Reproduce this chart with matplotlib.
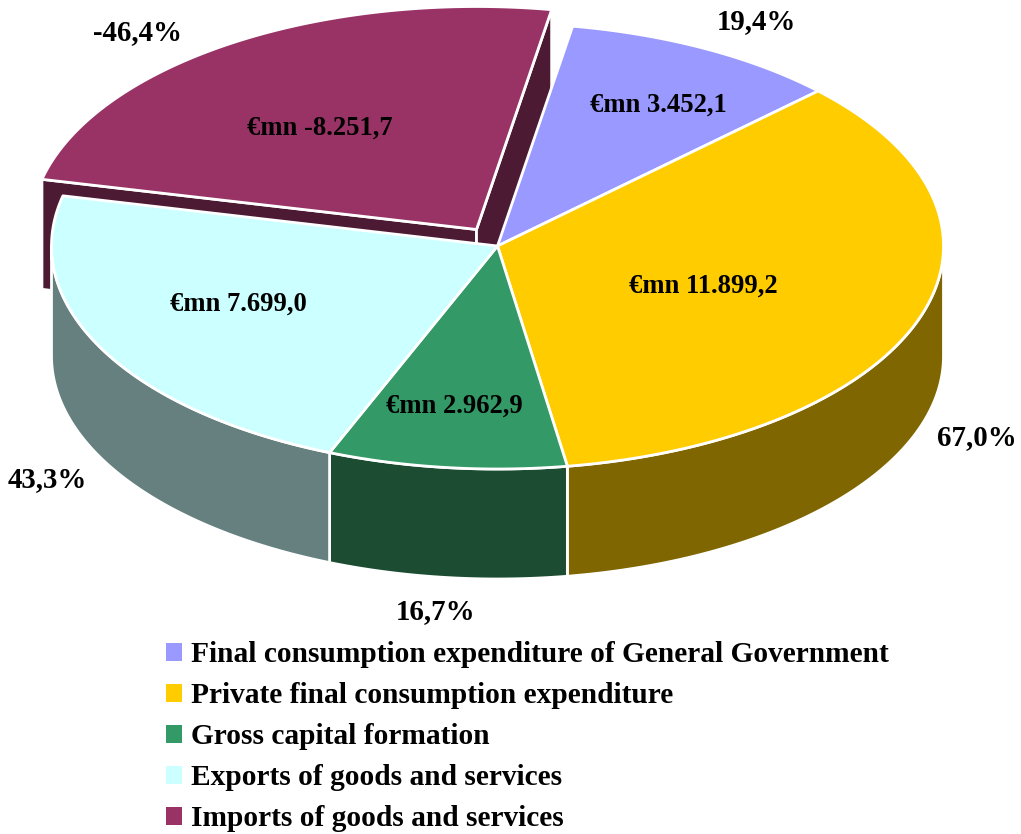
import numpy as np
import matplotlib
matplotlib.use("Agg")
import matplotlib.pyplot as plt
from matplotlib.patches import Patch, Polygon

categories = ["Final consumption expenditure of General Government",
              "Private final consumption expenditure",
              "Gross capital formation",
              "Exports of goods and services",
              "Imports of goods and services"]
values = [3452.1, 11899.2, 2962.9, 7699.0, -8251.7]
shares = [19.4, 67.0, 16.7, 43.3, -46.4]

top_colors = ["#9999FF", "#FFCC00", "#339966", "#CCFFFF", "#993366"]
wall_colors = ["#4D4D80", "#806600", "#1C4D33", "#668080", "#4D1A33"]
exploded = [False, False, False, False, True]

value_pos = [(658, 105), (703, 286), (454, 406), (238, 304), (320, 128)]
share_pos = [(756, 22), (977, 438), (436, 612), (47, 480), (137, 33)]

CX, CY, RX, RY, DEPTH = 497.5, 246.0, 446.0, 223.0, 110.0
START = 9.7
EXPLODE = (-21.0, -16.5)
EDGE = dict(edgecolor="white", linewidth=2.0, joinstyle="round")

plt.rcParams["font.family"] = ["Liberation Serif", "DejaVu Serif"]
plt.rcParams["font.weight"] = "bold"

fig = plt.figure(figsize=(10.21, 8.34), dpi=100)
ax = fig.add_axes([0, 0, 1, 1])
ax.set_xlim(0, 1021)
ax.set_ylim(834, 0)
ax.axis("off")


def arc(a0, a1, cx, cy):
    t = np.radians(np.linspace(a0, a1, 200))
    return np.column_stack([cx + RX * np.sin(t), cy - RY * np.cos(t)])


def eu(v):
    return f"{v:,.1f}".replace(",", "#").replace(".", ",").replace("#", ".")


mags = np.abs(values)
edges = START + np.concatenate([[0], np.cumsum(mags)]) / mags.sum() * 360

order = [i for i in range(len(values)) if exploded[i]] + \
        [i for i in range(len(values)) if not exploded[i]]
z = 2
for i in order:
    a0, a1 = edges[i], edges[i + 1]
    cx = CX + (EXPLODE[0] if exploded[i] else 0)
    cy = CY + (EXPLODE[1] if exploded[i] else 0)
    rim = arc(a0, a1, cx, cy)
    down = np.array([0, DEPTH])
    tip = np.array([cx, cy])
    if exploded[i]:
        for corner in (rim[0], rim[-1]):
            ax.add_patch(Polygon([tip, corner, corner + down, tip + down],
                                 facecolor=wall_colors[i], zorder=z, **EDGE))
            z += 1
    lo, hi = max(a0, 90.0), min(a1, 270.0)
    if lo < hi:
        front = arc(lo, hi, cx, cy)
        ax.add_patch(Polygon(np.vstack([front, (front + down)[::-1]]),
                             facecolor=wall_colors[i], zorder=z, **EDGE))
        z += 1

for i in order:
    a0, a1 = edges[i], edges[i + 1]
    cx = CX + (EXPLODE[0] if exploded[i] else 0)
    cy = CY + (EXPLODE[1] if exploded[i] else 0)
    rim = arc(a0, a1, cx, cy)
    ax.add_patch(Polygon(np.vstack([[cx, cy], rim]), facecolor=top_colors[i],
                         zorder=20, **EDGE))

for v, s, vp, sp in zip(values, shares, value_pos, share_pos):
    ax.text(*vp, f"€mn {eu(v)}", ha="center", va="center", fontsize=19.2, zorder=30)
    ax.text(*sp, f"{eu(s)}%", ha="center", va="center", fontsize=20.8, zorder=30)

handles = [Patch(facecolor=c, edgecolor="none", label=n)
           for c, n in zip(top_colors, categories)]
ax.legend(handles=handles, loc="upper left", bbox_to_anchor=(166 / 1021, 1 - 641.5 / 834),
          bbox_transform=fig.transFigure, frameon=False, fontsize=21.2,
          handlelength=0.543, handleheight=0.543, handletextpad=0.306,
          labelspacing=0.473, borderpad=0, borderaxespad=0)

fig.savefig("out.png", dpi=100, facecolor="white")
